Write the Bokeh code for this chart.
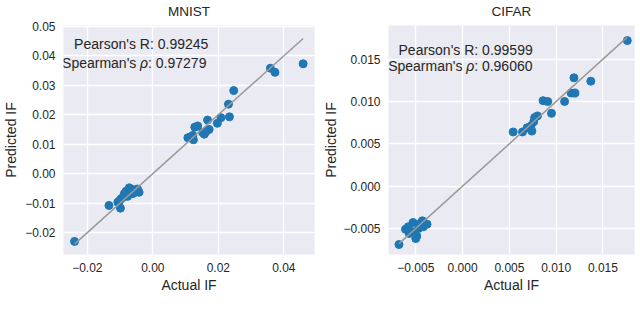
from bokeh.plotting import figure
from bokeh.layouts import row
from bokeh.models import FixedTicker, Label, Range1d, LinearAxis
from bokeh.embed import file_html
from bokeh.resources import INLINE

# ---------------- data ----------------
mnist_actual = [0.0459, 0.0359, 0.0373, 0.0247, 0.0231, 0.0234, 0.0208, 0.0197, 0.0167,
                0.0172, 0.0137, 0.0128, 0.0157, 0.0152, 0.0122, 0.0107, 0.0124, 0.0115,
                0.0162,
                -0.0239, -0.0134, -0.0099, -0.0072, -0.0062, -0.0052, -0.0042, -0.0087,
                -0.0082, -0.0067, -0.0097, -0.0107, -0.0062, -0.0077, -0.0090, -0.0102,
                -0.0057, -0.0047]
mnist_pred = [0.0373, 0.0358, 0.0344, 0.0282, 0.0236, 0.0193, 0.0190, 0.0171, 0.0182,
              0.0150, 0.0162, 0.0158, 0.0134, 0.0140, 0.0130, 0.0122, 0.0115, 0.0125,
              0.0142,
              -0.0230, -0.0108, -0.0117, -0.0048, -0.0054, -0.0055, -0.0063, -0.0068,
              -0.0060, -0.0059, -0.0085, -0.0097, -0.0068, -0.0077, -0.0079, -0.0092,
              -0.0065, -0.0052]

cifar_actual = [0.0176, 0.0119, 0.0137, 0.0116, 0.0120, 0.0109, 0.0086, 0.0091, 0.0095,
                0.0080, 0.0077, 0.0076, 0.0073, 0.0069, 0.0074, 0.0064, 0.0054,
                -0.0068, -0.0061, -0.0053, -0.0043, -0.0038, -0.0050, -0.0057, -0.0047,
                -0.0052, -0.0042, -0.0049, -0.0058, -0.0045]
cifar_pred = [0.0172, 0.0128, 0.0124, 0.0110, 0.0110, 0.0100, 0.0101, 0.0100, 0.0086,
              0.0083, 0.0081, 0.0076, 0.0071, 0.0069, 0.0065, 0.0064, 0.0064,
              -0.0069, -0.0051, -0.0043, -0.0041, -0.0045, -0.0062, -0.0056, -0.0050,
              -0.0054, -0.0048, -0.0059, -0.0048, -0.0044]

mnist_xticks = [-0.02, 0.0, 0.02, 0.04]
mnist_xlabels = ["\u22120.02", "0.00", "0.02", "0.04"]
mnist_yticks = [-0.02, -0.01, 0.0, 0.01, 0.02, 0.03, 0.04, 0.05]
mnist_ylabels = ["\u22120.02", "\u22120.01", "0.00", "0.01", "0.02", "0.03", "0.04", "0.05"]

cifar_xticks = [-0.005, 0.0, 0.005, 0.01, 0.015]
cifar_xlabels = ["\u22120.005", "0.000", "0.005", "0.010", "0.015"]
cifar_yticks = [-0.005, 0.0, 0.005, 0.01, 0.015]
cifar_ylabels = ["\u22120.005", "0.000", "0.005", "0.010", "0.015"]

mnist_pearson = "0.99245"
mnist_spearman = "0.97279"
cifar_pearson = "0.99599"
cifar_spearman = "0.96060"

TXT = "#262626"
FONT = "Liberation Sans"
BLUE = "#1f77b4"


def make_panel(title, xs, ys, xr, yr, xticks, xlabels, yticks, ylabels,
               pearson, spearman, ppos, spos, width, height, mbl, mbr, mbt, mbb,
               ylab_standoff):
    p = figure(width=width, height=height, output_backend="svg", toolbar_location=None,
               x_range=Range1d(*xr), y_range=Range1d(*yr),
               min_border_left=mbl, min_border_right=mbr,
               min_border_top=mbt, min_border_bottom=mbb)

    bottom_axis = p.below[0]
    left_axis = p.left[0]

    # panel title, drawn as the label of a tick-less axis above the plot
    top = LinearAxis(ticker=FixedTicker(ticks=[]), axis_label=title,
                     axis_line_color=None, major_tick_line_color=None,
                     minor_tick_line_color=None, major_tick_out=0, major_tick_in=0,
                     major_label_standoff=0, axis_label_standoff=7,
                     axis_label_text_font=FONT, axis_label_text_font_size="13.5px",
                     axis_label_text_font_style="normal", axis_label_text_color=TXT)
    p.add_layout(top, "above")

    p.background_fill_color = "#EAEAF2"
    p.border_fill_color = "white"
    p.outline_line_color = None

    xt = FixedTicker(ticks=xticks)
    yt = FixedTicker(ticks=yticks)
    bottom_axis.ticker = xt
    left_axis.ticker = yt
    p.xgrid.ticker = xt
    p.ygrid.ticker = yt
    bottom_axis.major_label_overrides = {t: l for t, l in zip(xticks, xlabels)}
    left_axis.major_label_overrides = {t: l for t, l in zip(yticks, ylabels)}

    for g in (p.xgrid, p.ygrid):
        g.grid_line_color = "white"
        g.grid_line_width = 1.3
    for ax in (bottom_axis, left_axis):
        ax.axis_line_color = None
        ax.major_tick_line_color = None
        ax.minor_tick_line_color = None
        ax.major_tick_out = 0
        ax.major_tick_in = 0
        ax.major_label_text_font = FONT
        ax.major_label_text_font_size = "12px"
        ax.major_label_text_color = TXT
        ax.major_label_standoff = 8
        ax.axis_label_text_font = FONT
        ax.axis_label_text_font_size = "14px"
        ax.axis_label_text_font_style = "normal"
        ax.axis_label_text_color = TXT
    bottom_axis.axis_label = "Actual IF"
    left_axis.axis_label = "Predicted IF"
    bottom_axis.axis_label_standoff = 2
    left_axis.axis_label_standoff = ylab_standoff

    p.scatter(xs, ys, size=8, color=BLUE, line_color=BLUE)
    lo, hi = min(xs), max(xs)
    p.line([lo, hi], [lo, hi], line_color="#999999", line_width=1.5)

    common = dict(x_units="data", y_units="data", text_font=FONT, text_font_size="14px",
                  text_color=TXT, text_baseline="middle", text_align="left")
    p.add_layout(Label(x=ppos[0], y=ppos[1], text="Pearson's R: " + pearson, **common))
    p.add_layout(Label(x=spos[0], y=spos[1], text="Spearman's ", **common))
    p.add_layout(Label(x=spos[0], y=spos[1], text="\u03c1", x_offset=78,
                       text_font_style="italic", **common))
    p.add_layout(Label(x=spos[0], y=spos[1], text=": " + spearman, x_offset=86, **common))
    return p


p1 = make_panel("MNIST", mnist_actual, mnist_pred, (-0.02728, 0.04937), (-0.02744, 0.0503),
                mnist_xticks, mnist_xlabels, mnist_yticks, mnist_ylabels,
                mnist_pearson, mnist_spearman, (-0.02404, 0.04391), (-0.02772, 0.03749),
                320, 310, 58, 6, 24, 56, 3)
p2 = make_panel("CIFAR", cifar_actual, cifar_pred, (-0.00792, 0.01837), (-0.00808, 0.01898),
                cifar_xticks, cifar_xlabels, cifar_yticks, cifar_ylabels,
                cifar_pearson, cifar_spearman, (-0.00685, 0.01609), (-0.00796, 0.01414),
                318, 310, 62, 4, 23, 56, 1)

layout = row(p1, p2)

open("out.html", "w").write(file_html(layout, INLINE))
